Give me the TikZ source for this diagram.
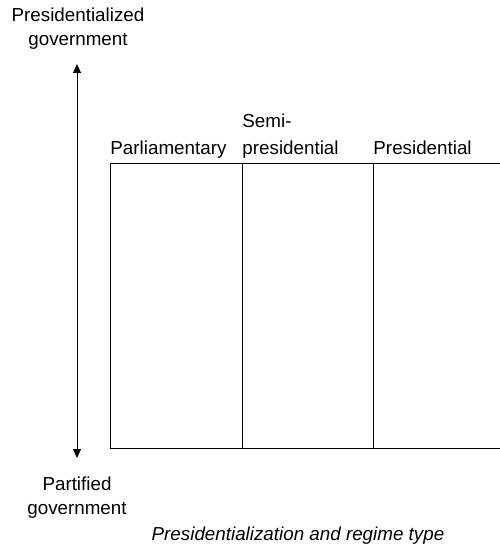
\documentclass[tikz,border=0pt]{standalone}
\usepackage{fontspec}
\setmainfont{Liberation Sans}
\usetikzlibrary{arrows.meta}
\begin{document}
\begin{tikzpicture}[
  x = 1pt,
  y = -1pt,
  axislabel/.style = {
    align = center,
    anchor = base,
    inner sep = 0pt,
    font = \fontsize{18.8}{24}\selectfont
  },
  regime/.style = {
    anchor = base west,
    inner sep = 0pt,
    font = \fontsize{18.8}{24}\selectfont
  },
  every path/.style = {
    line width = 0.9pt
  }
]
  \useasboundingbox (0, 0) rectangle (499, 548);

  % base anchor sits on the last line
  \node[axislabel] (pres) at (78, 46) {Presidentialized\\government};
  \node[axislabel] (part) at (77, 514) {Partified\\government};

  \coordinate (top) at (77, 64);
  \coordinate (bottom) at (77, 458);
  \draw[{Triangle[length = 9pt, width = 8pt]}-{Triangle[length = 9pt, width = 8pt]}] (top) -- (bottom);

  \coordinate (nw) at (110, 163);
  \coordinate (sw) at (110, 448);
  \coordinate (ne) at (500, 163);
  \coordinate (se) at (500, 448);
  \coordinate (a1) at (242, 163);
  \coordinate (a2) at (242, 448);
  \coordinate (b1) at (373, 163);
  \coordinate (b2) at (373, 448);

  \draw (ne) -- (nw) -- (sw) -- (se);
  \draw (a1) -- (a2);
  \draw (b1) -- (b2);

  \node[regime] (parl) at (110, 155) {Parliamentary};
  \node[regime] (semi) at (242, 128) {Semi-};
  \node[regime] (semipres) at (242, 155) {presidential};
  \node[regime] (presid) at (373, 155) {Presidential};

  \node[regime, anchor = base, font = \fontsize{18.8}{24}\selectfont\itshape] (title) at (298, 540) {Presidentialization and regime type};
\end{tikzpicture}
\end{document}
